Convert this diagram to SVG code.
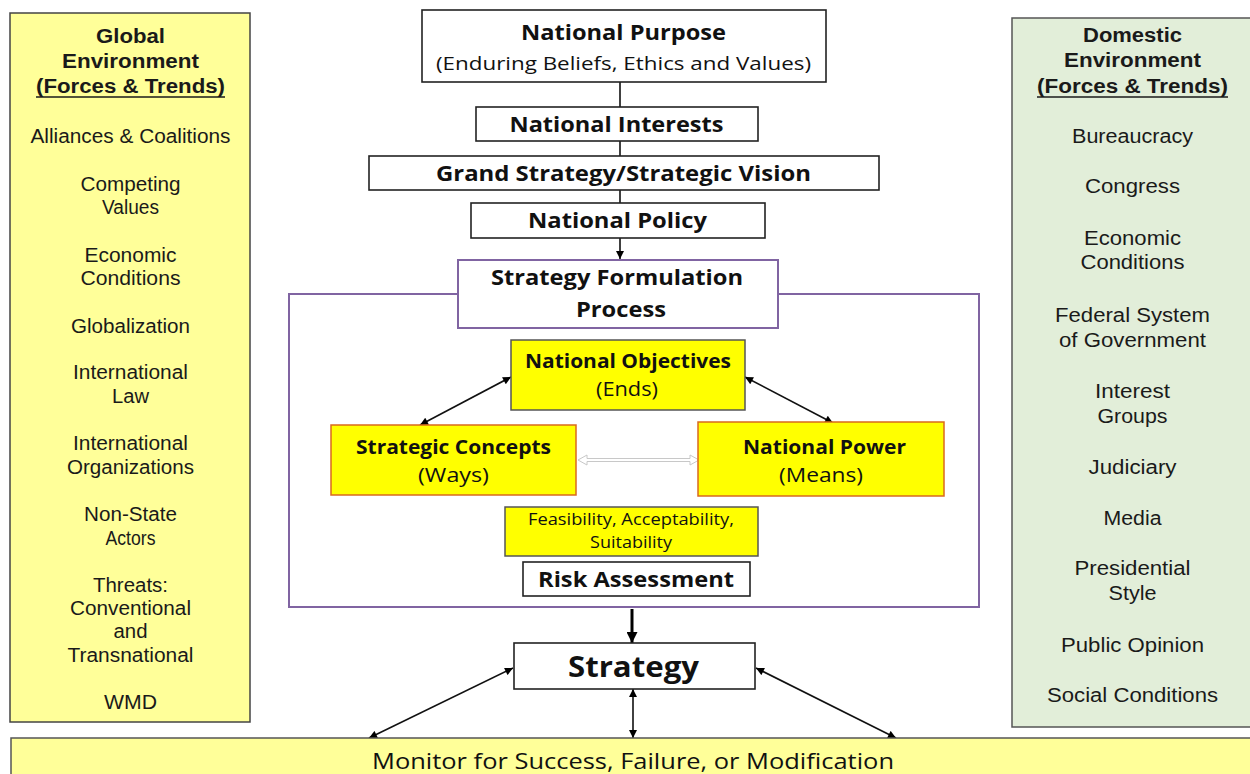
<svg xmlns="http://www.w3.org/2000/svg" width="1250" height="774" viewBox="0 0 1250 774">
<defs>
<style>
.pt{font-family:"Liberation Sans",Arial,sans-serif;font-size:20px;fill:#1a1a1a;text-anchor:middle}
.pb{font-weight:bold}
.ul{stroke:#1a1a1a;stroke-width:1.5}
.ct{font-family:"Open Sans","Noto Sans",sans-serif;fill:#111;text-anchor:middle}
.b{font-weight:bold}
.box{fill:#fff;stroke:#222;stroke-width:1.6}
.ybox{fill:#ffff00;stroke:#555;stroke-width:1.5}
.obox{fill:#ffff00;stroke:#d9691e;stroke-width:1.5}
.pur{fill:none;stroke:#8064a2;stroke-width:2}
.ln{stroke:#111;stroke-width:1.6;fill:none}
</style>
<marker id="ah" viewBox="0 0 10 10" refX="10" refY="5" markerWidth="9" markerHeight="8" markerUnits="userSpaceOnUse" orient="auto-start-reverse"><path d="M0,0 L10,5 L0,10 z" fill="#000"/></marker>
<marker id="ahb" viewBox="0 0 10 10" refX="10" refY="5" markerWidth="11" markerHeight="11" markerUnits="userSpaceOnUse" orient="auto"><path d="M0,0 L10,5 L0,10 z" fill="#000"/></marker>
</defs>
<rect width="1250" height="774" fill="#fff"/>

<g id="global-environment">
<rect x="10" y="13" width="240" height="709" fill="#ffff99" stroke="#444" stroke-width="1.5"/>
<text class="pt pb" x="130.5" y="43" textLength="69" lengthAdjust="spacingAndGlyphs">Global</text>
<text class="pt pb" x="130.5" y="68" textLength="137" lengthAdjust="spacingAndGlyphs">Environment</text>
<text class="pt pb" x="130.5" y="93" textLength="189" lengthAdjust="spacingAndGlyphs">(Forces &amp; Trends)</text>
<line class="ul" x1="36" y1="97" x2="225" y2="97"/>
<text class="pt" x="130.5" y="143" textLength="200" lengthAdjust="spacingAndGlyphs">Alliances &amp; Coalitions</text>
<text class="pt" x="130.5" y="191" textLength="100" lengthAdjust="spacingAndGlyphs">Competing</text>
<text class="pt" x="130.5" y="214" textLength="57" lengthAdjust="spacingAndGlyphs">Values</text>
<text class="pt" x="130.5" y="262" textLength="92" lengthAdjust="spacingAndGlyphs">Economic</text>
<text class="pt" x="130.5" y="285" textLength="100" lengthAdjust="spacingAndGlyphs">Conditions</text>
<text class="pt" x="130.5" y="333" textLength="119" lengthAdjust="spacingAndGlyphs">Globalization</text>
<text class="pt" x="130.5" y="379" textLength="115" lengthAdjust="spacingAndGlyphs">International</text>
<text class="pt" x="130.5" y="403" textLength="37" lengthAdjust="spacingAndGlyphs">Law</text>
<text class="pt" x="130.5" y="450" textLength="115" lengthAdjust="spacingAndGlyphs">International</text>
<text class="pt" x="130.5" y="474" textLength="127" lengthAdjust="spacingAndGlyphs">Organizations</text>
<text class="pt" x="130.5" y="521" textLength="93" lengthAdjust="spacingAndGlyphs">Non-State</text>
<text class="pt" x="130.5" y="545" textLength="50" lengthAdjust="spacingAndGlyphs">Actors</text>
<text class="pt" x="130.5" y="592" textLength="75" lengthAdjust="spacingAndGlyphs">Threats:</text>
<text class="pt" x="130.5" y="615" textLength="121" lengthAdjust="spacingAndGlyphs">Conventional</text>
<text class="pt" x="130.5" y="638" textLength="34" lengthAdjust="spacingAndGlyphs">and</text>
<text class="pt" x="130.5" y="662" textLength="126" lengthAdjust="spacingAndGlyphs">Transnational</text>
<text class="pt" x="130.5" y="709" textLength="53" lengthAdjust="spacingAndGlyphs">WMD</text>
</g>

<g id="domestic-environment">
<rect x="1012" y="18" width="242" height="709" fill="#e2eed9" stroke="#555" stroke-width="1.5"/>
<text class="pt pb" x="1132.5" y="42" textLength="99" lengthAdjust="spacingAndGlyphs">Domestic</text>
<text class="pt pb" x="1132.5" y="67" textLength="137" lengthAdjust="spacingAndGlyphs">Environment</text>
<text class="pt pb" x="1132.5" y="93" textLength="191" lengthAdjust="spacingAndGlyphs">(Forces &amp; Trends)</text>
<line class="ul" x1="1037" y1="97" x2="1228" y2="97"/>
<text class="pt" x="1132.5" y="143" textLength="121" lengthAdjust="spacingAndGlyphs">Bureaucracy</text>
<text class="pt" x="1132.5" y="193" textLength="95" lengthAdjust="spacingAndGlyphs">Congress</text>
<text class="pt" x="1132.5" y="245" textLength="97" lengthAdjust="spacingAndGlyphs">Economic</text>
<text class="pt" x="1132.5" y="269" textLength="104" lengthAdjust="spacingAndGlyphs">Conditions</text>
<text class="pt" x="1132.5" y="322" textLength="155" lengthAdjust="spacingAndGlyphs">Federal System</text>
<text class="pt" x="1132.5" y="347" textLength="147" lengthAdjust="spacingAndGlyphs">of Government</text>
<text class="pt" x="1132.5" y="398" textLength="75" lengthAdjust="spacingAndGlyphs">Interest</text>
<text class="pt" x="1132.5" y="423" textLength="70" lengthAdjust="spacingAndGlyphs">Groups</text>
<text class="pt" x="1132.5" y="474" textLength="88" lengthAdjust="spacingAndGlyphs">Judiciary</text>
<text class="pt" x="1132.5" y="525" textLength="58" lengthAdjust="spacingAndGlyphs">Media</text>
<text class="pt" x="1132.5" y="575" textLength="116" lengthAdjust="spacingAndGlyphs">Presidential</text>
<text class="pt" x="1132.5" y="600" textLength="48" lengthAdjust="spacingAndGlyphs">Style</text>
<text class="pt" x="1132.5" y="652" textLength="143" lengthAdjust="spacingAndGlyphs">Public Opinion</text>
<text class="pt" x="1132.5" y="702" textLength="171" lengthAdjust="spacingAndGlyphs">Social Conditions</text>
</g>

<g id="connectors">
<line class="ln" x1="620" y1="82" x2="620" y2="107"/>
<line class="ln" x1="620" y1="141" x2="620" y2="156"/>
<line class="ln" x1="620" y1="190" x2="620" y2="203"/>
<line class="ln" x1="620" y1="238" x2="620" y2="259" marker-end="url(#ah)"/>
<line class="ln" x1="511" y1="377" x2="420" y2="425" marker-start="url(#ah)" marker-end="url(#ah)"/>
<line class="ln" x1="745" y1="377" x2="833" y2="423" marker-start="url(#ah)" marker-end="url(#ah)"/>
<polygon points="578,460 587,455 587,458.5 690,458.5 690,455 699,460 690,465 690,461.5 587,461.5 587,465" fill="#fff" stroke="#c8c8c8" stroke-width="1"/>
<line x1="632" y1="609" x2="632" y2="643" stroke="#000" stroke-width="3" marker-end="url(#ahb)"/>
<line class="ln" x1="513" y1="668" x2="369" y2="738" marker-start="url(#ah)" marker-end="url(#ah)"/>
<line class="ln" x1="756" y1="668" x2="896" y2="738" marker-start="url(#ah)" marker-end="url(#ah)"/>
<line class="ln" x1="633" y1="689" x2="633" y2="738" marker-start="url(#ah)" marker-end="url(#ah)"/>
</g>

<g id="national-purpose">
<rect class="box" x="422" y="10" width="404" height="72"/>
<text class="ct b" x="623.5" y="40" font-size="21" textLength="205" lengthAdjust="spacingAndGlyphs">National Purpose</text>
<text class="ct" x="623.5" y="70" font-size="19" textLength="375" lengthAdjust="spacingAndGlyphs">(Enduring Beliefs, Ethics and Values)</text>
</g>

<g id="national-interests">
<rect class="box" x="476" y="107" width="282" height="34"/>
<text class="ct b" x="616.5" y="132" font-size="22" fill="#2b2b2b" textLength="214" lengthAdjust="spacingAndGlyphs">National Interests</text>
</g>

<g id="grand-strategy">
<rect class="box" x="369" y="156" width="510" height="34"/>
<text class="ct b" x="623.5" y="181" font-size="22" textLength="375" lengthAdjust="spacingAndGlyphs">Grand Strategy/Strategic Vision</text>
</g>

<g id="national-policy">
<rect class="box" x="471" y="203" width="294" height="35"/>
<text class="ct b" x="617.5" y="228" font-size="22" textLength="179" lengthAdjust="spacingAndGlyphs">National Policy</text>
</g>

<g id="formulation-frame">
<rect class="pur" x="289" y="294" width="690" height="313"/>
</g>

<g id="strategy-formulation-process">
<rect x="458" y="260" width="320" height="68" fill="#fff" stroke="#8064a2" stroke-width="2"/>
<text class="ct b" x="617" y="285" font-size="22" textLength="252" lengthAdjust="spacingAndGlyphs">Strategy Formulation</text>
<text class="ct b" x="621" y="317" font-size="22" textLength="90" lengthAdjust="spacingAndGlyphs">Process</text>
</g>

<g id="national-objectives">
<rect class="ybox" x="511" y="340" width="234" height="70"/>
<text class="ct b" x="628" y="368" font-size="20" textLength="206" lengthAdjust="spacingAndGlyphs">National Objectives</text>
<text class="ct" x="627" y="396" font-size="20" textLength="62" lengthAdjust="spacingAndGlyphs">(Ends)</text>
</g>

<g id="strategic-concepts">
<rect class="obox" x="331" y="425" width="245" height="70"/>
<text class="ct b" x="453.5" y="454" font-size="20" textLength="195" lengthAdjust="spacingAndGlyphs">Strategic Concepts</text>
<text class="ct" x="453.5" y="482" font-size="20" textLength="71" lengthAdjust="spacingAndGlyphs">(Ways)</text>
</g>

<g id="national-power">
<rect class="obox" x="698" y="422" width="246" height="74"/>
<text class="ct b" x="824.5" y="454" font-size="20" textLength="163" lengthAdjust="spacingAndGlyphs">National Power</text>
<text class="ct" x="821" y="482" font-size="20" textLength="84" lengthAdjust="spacingAndGlyphs">(Means)</text>
</g>

<g id="feasibility">
<rect class="ybox" x="505" y="507" width="253" height="49"/>
<text class="ct" x="631" y="525" font-size="16" textLength="206" lengthAdjust="spacingAndGlyphs">Feasibility, Acceptability,</text>
<text class="ct" x="631" y="548" font-size="16" textLength="82" lengthAdjust="spacingAndGlyphs">Suitability</text>
</g>

<g id="risk-assessment">
<rect class="box" x="523" y="562" width="227" height="34"/>
<text class="ct b" x="636" y="587" font-size="22" textLength="196" lengthAdjust="spacingAndGlyphs">Risk Assessment</text>
</g>

<g id="strategy">
<rect class="box" x="514" y="643" width="241" height="46"/>
<text class="ct b" x="633.5" y="677" font-size="28" textLength="131" lengthAdjust="spacingAndGlyphs">Strategy</text>
</g>

<g id="monitor">
<rect x="11" y="738" width="1243" height="40" fill="#ffff99" stroke="#555" stroke-width="1.5"/>
<text class="ct" x="633" y="769" font-size="22" textLength="522" lengthAdjust="spacingAndGlyphs">Monitor for Success, Failure, or Modification</text>
</g>
</svg>
